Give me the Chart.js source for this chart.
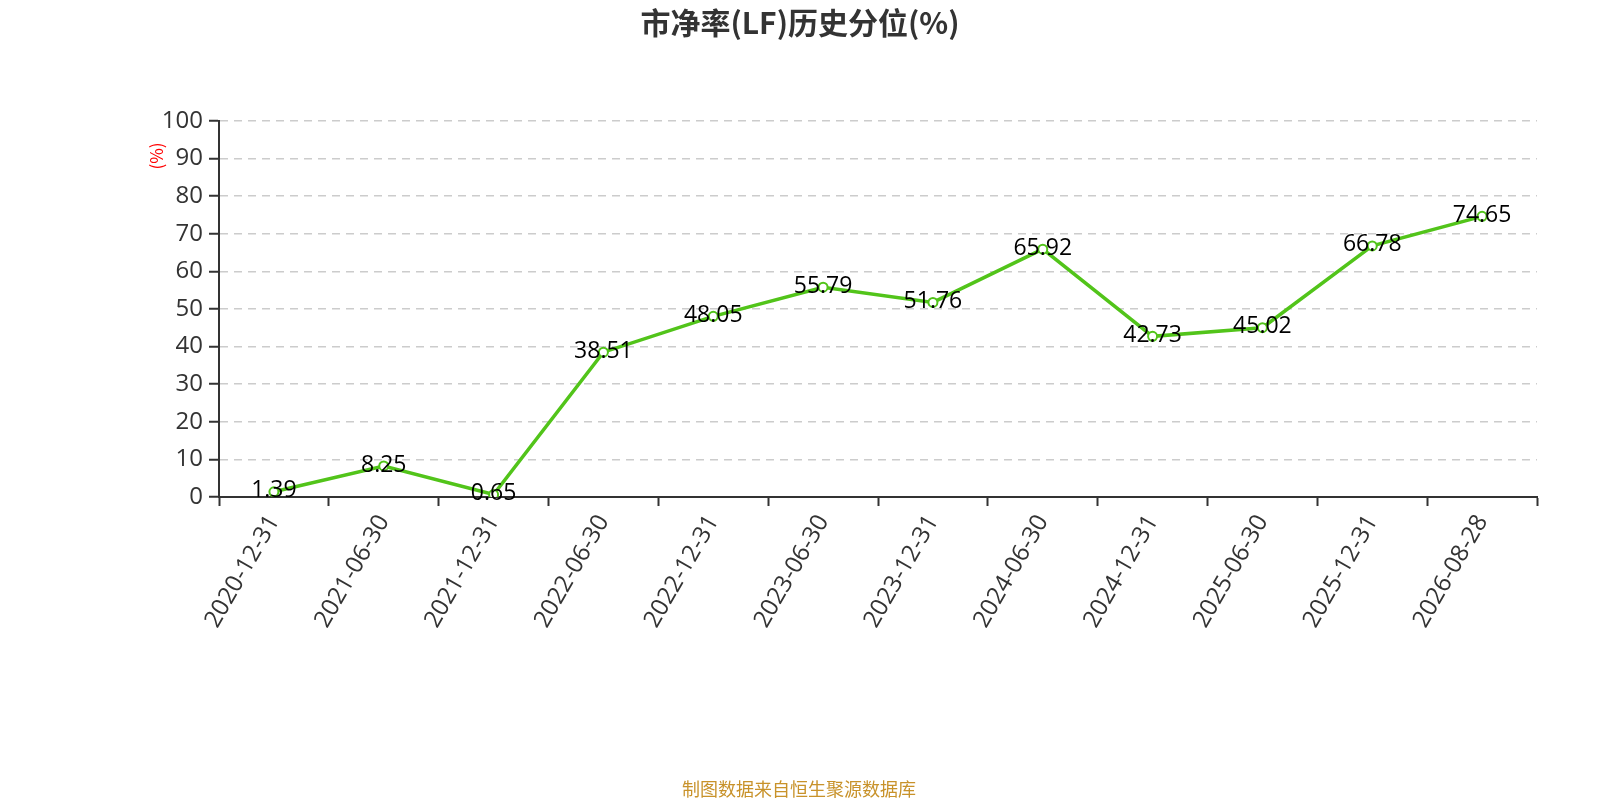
<!DOCTYPE html>
<html>
<head>
<meta charset="utf-8">
<script src="https://cdn.jsdelivr.net/npm/chart.js@4/dist/chart.umd.min.js"></script>
<style>
  html, body { margin: 0; padding: 0; background: #fff; overflow: hidden; }
  #wrap { width: 1600px; height: 800px; position: relative; }
  canvas { display: block; }
</style>
</head>
<body>
<div id="wrap"><canvas id="pbChart" width="1600" height="800"></canvas></div>
<script>
const dates = ['2020-12-31','2021-06-30','2021-12-31','2022-06-30','2022-12-31','2023-06-30',
               '2023-12-31','2024-06-30','2024-12-31','2025-06-30','2025-12-31','2026-08-28']
const pctValues = [1.39, 8.25, 0.65, 38.51, 48.05, 55.79, 51.76, 65.92, 42.73, 45.02, 66.78, 74.65]
const yTicks = [0,10,20,30,40,50,60,70,80,90,100]

const titleText = '市净率(LF)历史分位(%)'
const footText = '制图数据来自恒生聚源数据库'
const CJK = '"Noto Sans CJK SC", sans-serif'
const NUM = '"Open Sans", "Noto Sans", sans-serif'

// draws title, footer, the red (%) unit and the value labels
const extras = {
  id: 'extras',
  afterDatasetsDraw(chart) {
    const c = chart.ctx
    c.save()
    c.textAlign = 'center'
    c.textBaseline = 'middle'
    c.fillStyle = '#000'
    c.font = '23px ' + NUM
    const meta = chart.getDatasetMeta(0)
    meta.data.forEach((pt, i) => {
      c.fillText(pctValues[i].toFixed(2), pt.x, pt.y - 1)
    })
    c.restore()
  },
  afterDraw(chart) {
    const c = chart.ctx
    c.save()
    c.textAlign = 'center'
    c.textBaseline = 'middle'
    c.fillStyle = '#333'
    c.font = 'bold 30px ' + CJK
    c.fillText(titleText, 800, 23)
    c.fillStyle = '#c8922a'
    c.font = '18px ' + CJK
    c.fillText(footText, 799, 789)
    c.translate(157, 156)
    c.rotate(-Math.PI / 2)
    c.fillStyle = '#ff0000'
    c.font = '17px ' + CJK
    c.fillText('(%)', 0, 0)
    c.restore()
  }
}

const ctx = document.getElementById('pbChart')
new Chart(ctx, {
  type: 'line',
  data: {
    labels: dates,
    datasets: [{
      data: pctValues,
      borderColor: '#52c41a',
      borderWidth: 3.5,
      pointRadius: 4.5,
      pointBorderWidth: 2,
      pointBackgroundColor: '#fff',
      pointBorderColor: '#52c41a',
      tension: 0
    }]
  },
  options: {
    responsive: false,
    animation: false,
    devicePixelRatio: 1,
    layout: { padding: { top: 121, right: 63, left: 0, bottom: 0 } },
    plugins: { legend: { display: false }, tooltip: { enabled: false }, title: { display: false } },
    scales: {
      x: {
        type: 'category',
        offset: true,
        afterFit(s) { s.height = 303 },
        border: { display: true, color: '#333', width: 2 },
        grid: { offset: true, drawOnChartArea: false, drawTicks: true, tickLength: 9, tickColor: '#333', tickWidth: 2 },
        ticks: {
          color: '#333', font: { family: NUM, size: 24 },
          minRotation: 60, maxRotation: 60, autoSkip: false, padding: 4
        }
      },
      y: {
        min: 0, max: 100,
        afterFit(s) { s.width = 219 },
        afterBuildTicks(s) { s.ticks = yTicks.map(v => ({ value: v })) },
        border: { display: true, color: '#333', width: 2, dash: [8, 6] },
        grid: {
          color: '#ccc', lineWidth: 1.5, drawTicks: true, tickLength: 10,
          tickColor: '#333', tickWidth: 2, tickBorderDash: []
        },
        ticks: { color: '#333', font: { family: NUM, size: 24 }, padding: 6 }
      }
    }
  },
  plugins: [extras]
})
</script>
</body>
</html>
